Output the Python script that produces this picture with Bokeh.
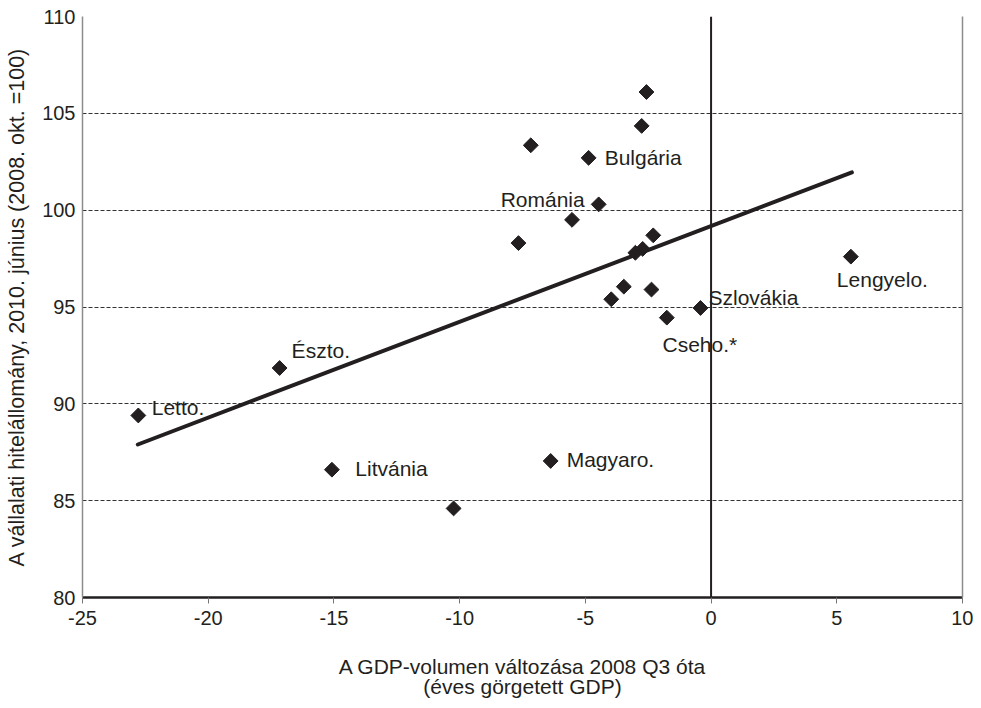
import math
from bokeh.plotting import figure
from bokeh.models import Span, LinearAxis, FixedTicker, Range1d, ColumnDataSource
from bokeh.core.properties import value
from bokeh.embed import file_html
from bokeh.resources import INLINE

# ---- data ----
gdp_change = [-2.57, -2.76, -7.17, -4.87, -4.47, -5.53, -7.66, -2.30, -2.72, -3.01,
              5.56, -3.47, -2.37, -3.97, -0.42, -1.76, -6.38, -22.78, -17.16, -15.08, -10.24]
credit_index = [106.1, 104.35, 103.35, 102.7, 100.3, 99.5, 98.3, 98.7, 98.0, 97.8,
                97.6, 96.05, 95.9, 95.4, 94.95, 94.45, 87.05, 89.4, 91.85, 86.6, 84.6]
country = ["", "", "", "Bulgária", "Románia", "", "", "", "", "",
           "Lengyelo.", "", "", "", "Szlovákia", "Cseho.*", "Magyaro.", "Letto.", "Észto.", "Litvánia", ""]

trend_x = [-22.8, 5.6]
trend_y = [87.9, 101.95]

x_ticks = [-25, -20, -15, -10, -5, 0, 5, 10]
y_ticks = [80, 85, 90, 95, 100, 105, 110]

x_title = "A GDP-volumen változása 2008 Q3 óta\n(éves görgetett GDP)"
y_title = "A vállalati hitelállomány, 2010. június (2008. okt. =100)"

# label placement (pixel offsets from the point, alignment)
label_style = {
    "Bulgária": (16, 0, "left"),
    "Románia": (-14, -5, "right"),
    "Lengyelo.": (-14, 22.6, "left"),
    "Szlovákia": (8, -10.6, "left"),
    "Cseho.*": (-4.3, 26.6, "left"),
    "Magyaro.": (16, -1.4, "left"),
    "Letto.": (13.4, -8.4, "left"),
    "Észto.": (12, -17.6, "left"),
    "Litvánia": (23.4, -1, "left"),
}

INK = "#231f20"
FONT = "Liberation Sans"

p = figure(width=973, height=700, output_backend="svg", toolbar_location=None,
           x_range=Range1d(-25, 10), y_range=Range1d(80, 110),
           min_border_left=82, min_border_right=11, min_border_top=16, min_border_bottom=103)
p.outline_line_color = None
p.background_fill_color = "white"

# grid
p.xgrid.visible = False
p.ygrid.ticker = FixedTicker(ticks=y_ticks)
p.ygrid.grid_line_color = "#333333"
p.ygrid.grid_line_dash = "4 2"
p.ygrid.grid_line_width = 1

# x axis
xa = p.xaxis[0]
xa.ticker = FixedTicker(ticks=x_ticks)
xa.major_label_overrides = {t: str(t) for t in x_ticks}
xa.axis_line_color = INK
xa.axis_line_width = 2.5
xa.major_tick_line_color = "#777777"
xa.major_tick_in = 0
xa.major_tick_out = 6
xa.minor_tick_line_color = None
xa.major_label_text_font = FONT
xa.major_label_text_font_size = "20px"
xa.major_label_text_color = INK
xa.major_label_standoff = 7
xa.axis_label = x_title
xa.axis_label_text_font = FONT
xa.axis_label_text_font_size = "21px"
xa.axis_label_text_font_style = "normal"
xa.axis_label_text_color = INK
xa.axis_label_text_line_height = 0.88
xa.axis_label_standoff = 27

# y axis
ya = p.yaxis[0]
ya.ticker = FixedTicker(ticks=y_ticks)
ya.axis_line_color = "#8c8c8c"
ya.axis_line_width = 1.5
ya.major_tick_line_color = None
ya.major_tick_in = 0
ya.major_tick_out = 0
ya.minor_tick_line_color = None
ya.major_label_text_font = FONT
ya.major_label_text_font_size = "20px"
ya.major_label_text_color = INK
ya.major_label_standoff = 7
ya.axis_label = y_title
ya.axis_label_text_font = FONT
ya.axis_label_text_font_size = "21.5px"
ya.axis_label_text_font_style = "normal"
ya.axis_label_text_color = INK
ya.axis_label_standoff = 10

# right border
ra = LinearAxis(ticker=FixedTicker(ticks=[]), axis_line_color="#8c8c8c", axis_line_width=1.5,
                major_tick_line_color=None, minor_tick_line_color=None,
                major_label_text_font_size="0px", major_tick_out=0, major_label_standoff=0)
p.add_layout(ra, "right")

# zero line
p.add_layout(Span(location=0, dimension="height", line_color=INK, line_width=2))

# trend line
p.line(trend_x, trend_y, line_color=INK, line_width=4, line_cap="round")

# points
p.scatter(gdp_change, credit_index, marker="square", angle=math.pi / 4, size=10.5,
          fill_color=INK, line_color=INK)

# labels
for align in ("left", "right"):
    xs, ys, ts, dxs, dys = [], [], [], [], []
    for xv, yv, name in zip(gdp_change, credit_index, country):
        if name and label_style[name][2] == align:
            dx, dy, _ = label_style[name]
            xs.append(xv); ys.append(yv); ts.append(name); dxs.append(dx); dys.append(dy)
    src = ColumnDataSource(dict(x=xs, y=ys, text=ts, dx=dxs, dy=dys))
    p.text(x="x", y="y", text="text", x_offset="dx", y_offset="dy", source=src,
           text_align=align, text_baseline="middle", text_font=value(FONT),
           text_font_size="21px", text_color=INK)

open("out.html", "w").write(file_html(p, INLINE))
